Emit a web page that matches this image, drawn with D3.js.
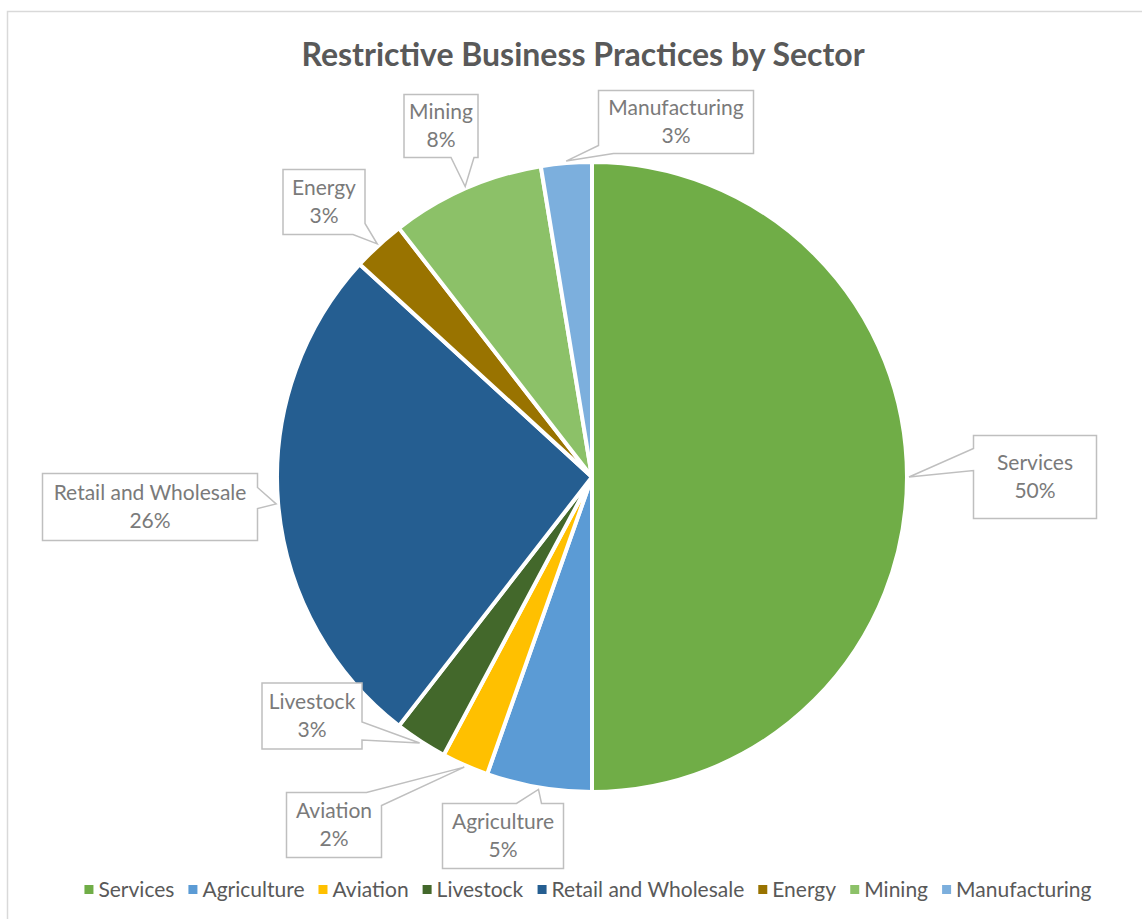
<!DOCTYPE html>
<html>
<head>
<meta charset="utf-8">
<script src="https://cdn.jsdelivr.net/npm/d3@7"></script>
<style>
  body { margin: 0; background: #fff; }
  svg { display: block; font-family: Lato, "Open Sans", sans-serif; }
</style>
</head>
<body>
<div id="chart"></div>
<script>
// data
var sectors = ['Services', 'Agriculture', 'Aviation', 'Livestock', 'Retail and Wholesale', 'Energy', 'Mining', 'Manufacturing'];
var shares = [50, 5.4, 2.4, 2.7, 26.3, 2.7, 7.9, 2.6];
var colors = ['#70AD47', '#5B9BD5', '#FFC000', '#43682B', '#255E91', '#997300', '#8CC168', '#7CAFDD'];

// callout boxes: centre, size, and notch [side, from, to] along the side (clockwise)
var boxes = [
  {cx: 1035, cy: 477, w: 123, h: 83, notch: ['left', 48, 70]},
  {cx: 503, cy: 836, w: 121, h: 65, notch: ['top', 74, 99]},
  {cx: 334, cy: 825, w: 95, h: 65, notch: ['top', 80, 108]},
  {cx: 312, cy: 716, w: 100, h: 66, notch: ['right', 39, 57]},
  {cx: 150, cy: 507, w: 215, h: 67, notch: ['right', 14, 35]},
  {cx: 324, cy: 202, w: 82, h: 65, notch: ['right', 54, 77]},
  {cx: 441, cy: 126, w: 74, h: 63, notch: ['bottom', 4, 27]},
  {cx: 676, cy: 122, w: 155, h: 63, notch: ['bottom', 140, 163]}
];

var W = 1142, H = 919;
var cx = 592, cy = 477, r = 315;

var svg = d3.select('#chart').append('svg')
  .attr('width', W)
  .attr('height', H);

// chart frame
svg.append('rect')
  .attr('x', 7.5).attr('y', 11.5)
  .attr('width', W).attr('height', H)
  .attr('fill', '#fff')
  .attr('stroke', '#d9d9d9')
  .attr('stroke-width', 1.5);

svg.append('text')
  .attr('x', cx - 9).attr('y', 66)
  .attr('text-anchor', 'middle')
  .style('font-size', '32px')
  .style('font-weight', 'bold')
  .attr('fill', '#595959')
  .text('Restrictive Business Practices by Sector');

var data = sectors.map(function(s, i) { return {name: s, value: shares[i], color: colors[i]}; });
var total = d3.sum(shares);

var pie = d3.pie().value(function(d) { return d.value; }).sort(null);
var arc = d3.arc().innerRadius(0).outerRadius(r);
var arcs = pie(data);

var g = svg.append('g').attr('transform', 'translate(' + cx + ',' + cy + ')');

g.selectAll('path.slice')
  .data(arcs)
  .enter().append('path')
  .attr('class', 'slice')
  .attr('d', arc)
  .attr('fill', function(d) { return d.data.color; })
  .attr('stroke', '#fff')
  .attr('stroke-width', 4)
  .attr('stroke-linejoin', 'round');

// point on the box perimeter given side + distance (clockwise)
function perim(b, side, dist) {
  var x0 = b.cx - b.w / 2, x1 = b.cx + b.w / 2, y0 = b.cy - b.h / 2, y1 = b.cy + b.h / 2;
  var order = ['top', 'right', 'bottom', 'left'];
  var lens = {top: b.w, right: b.h, bottom: b.w, left: b.h};
  var i = order.indexOf(side);
  while (dist > lens[order[i]]) { dist -= lens[order[i]]; i = (i + 1) % 4; }
  side = order[i];
  if (side === 'top') return {p: [x0 + dist, y0], s: i};
  if (side === 'right') return {p: [x1, y0 + dist], s: i};
  if (side === 'bottom') return {p: [x1 - dist, y1], s: i};
  return {p: [x0, y1 - dist], s: i};
}

function calloutPath(b, tip) {
  var x0 = b.cx - b.w / 2, x1 = b.cx + b.w / 2, y0 = b.cy - b.h / 2, y1 = b.cy + b.h / 2;
  var corners = [[x1, y0], [x1, y1], [x0, y1], [x0, y0]]; // end corner of each side
  var a = perim(b, b.notch[0], b.notch[1]);
  var c = perim(b, b.notch[0], b.notch[2]);
  var n = (a.s - c.s + 4) % 4;
  if (n === 0) n = 4;
  var pts = [c.p];
  for (var k = 0; k < n; k++) pts.push(corners[(c.s + k) % 4]);
  pts.push(a.p, tip);
  return 'M' + pts.map(function(p) { return p[0] + ',' + p[1]; }).join('L') + 'Z';
}

var labels = svg.append('g');
arcs.forEach(function(d, i) {
  var b = boxes[i];
  var mid = (d.startAngle + d.endAngle) / 2;
  var tip = [cx + (r + 2) * Math.sin(mid), cy - (r + 2) * Math.cos(mid)];
  labels.append('path')
    .attr('d', calloutPath(b, tip))
    .attr('fill', '#fff')
    .attr('stroke', '#bfbfbf')
    .attr('stroke-width', 1.5)
    .attr('stroke-linejoin', 'miter');
  var t = labels.append('text')
    .attr('text-anchor', 'middle')
    .attr('fill', '#7a7a7a')
    .style('font-size', '21px');
  t.append('tspan').attr('x', b.cx).attr('y', b.cy - 7).text(d.data.name);
  t.append('tspan').attr('x', b.cx).attr('y', b.cy + 21)
    .text(Math.round(d.data.value / total * 100) + '%');
});

// legend
var legend = svg.append('g');
var items = legend.selectAll('g.item').data(data).enter().append('g').attr('class', 'item');
items.append('rect')
  .attr('width', 9).attr('height', 9)
  .attr('y', -12)
  .attr('fill', function(d) { return d.color; });
items.append('text')
  .attr('x', 14)
  .attr('fill', '#595959')
  .style('font-size', '21px')
  .text(function(d) { return d.name; });
var gap = 14;
var xpos = 0, offs = [];
items.each(function() {
  offs.push(xpos);
  xpos += this.getBBox().width + gap;
});
var legendW = xpos - gap;
var startX = 588 - legendW / 2;
items.attr('transform', function(d, i) {
  return 'translate(' + (startX + offs[i]) + ',897)';
});
</script>
</body>
</html>
